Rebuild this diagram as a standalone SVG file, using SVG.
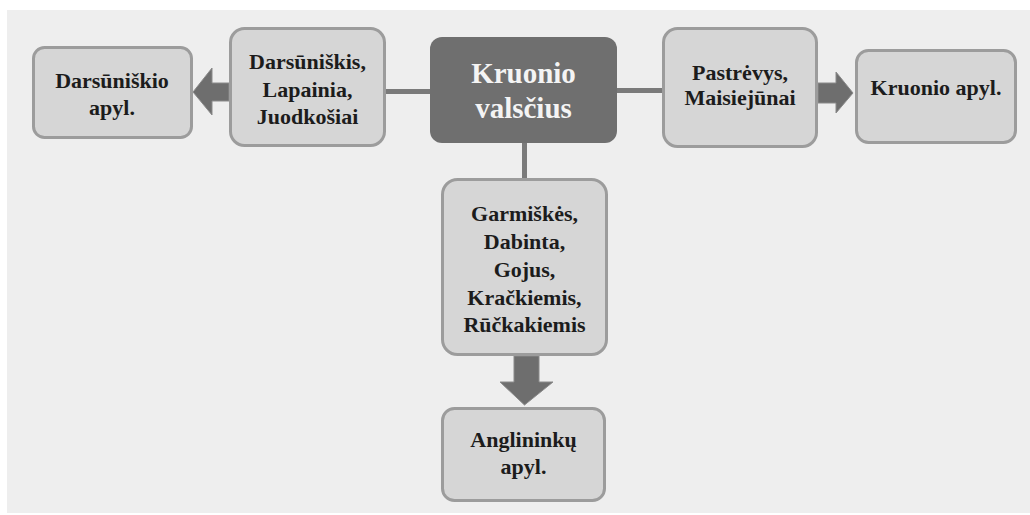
<svg xmlns="http://www.w3.org/2000/svg" width="1030" height="515" viewBox="0 0 1030 515">
  <style>
    .box { fill: #d6d6d6; stroke: #9c9c9c; stroke-width: 3; }
    .hub { fill: #6f6f6f; }
    .lbl { font-family: "Liberation Serif", "Times New Roman", serif; font-weight: bold; font-size: 22px; fill: #1c1c1c; text-anchor: middle; }
    .hubl { font-family: "Liberation Serif", "Times New Roman", serif; font-weight: bold; font-size: 29px; fill: #f4f4f4; text-anchor: middle; }
    .link { stroke: #7a7a7a; stroke-width: 5; fill: none; }
    .arrow { fill: #6e6e6e; stroke: #8a8a8a; stroke-width: 1; }
  </style>

  <!-- background panel -->
  <rect x="7" y="10" width="1023" height="503" fill="#eeeeee"/>

  <!-- connectors -->
  <g id="connectors">
    <line class="link" x1="384" y1="91.5" x2="432" y2="91.5"/>
    <line class="link" x1="615" y1="90.5" x2="664" y2="90.5"/>
    <line class="link" x1="524.5" y1="141" x2="524.5" y2="180"/>
    <polygon class="arrow" points="229,83 212,83 212,68 193,92 212,115 212,101 229,101"/>
    <polygon class="arrow" points="818,83 836,83 836,72 853,93 836,113 836,103 818,103"/>
    <polygon class="arrow" points="514,356 539,356 539,382 553,382 524.5,405 500,382 514,382"/>
  </g>

  <g id="darsuniskio-apyl">
    <rect class="box" x="33.5" y="47.5" width="158" height="90" rx="11"/>
    <text class="lbl" x="112" y="88">Darsūniškio</text>
    <text class="lbl" x="112" y="115">apyl.</text>
  </g>

  <g id="darsuniskis">
    <rect class="box" x="230.5" y="28.5" width="154" height="117" rx="14"/>
    <text class="lbl" x="307.5" y="69">Darsūniškis,</text>
    <text class="lbl" x="307.5" y="97">Lapainia,</text>
    <text class="lbl" x="307.5" y="124">Juodkošiai</text>
  </g>

  <g id="kruonio-valscius">
    <rect class="hub" x="430" y="37" width="187" height="106" rx="12"/>
    <text class="hubl" x="523.5" y="83">Kruonio</text>
    <text class="hubl" x="523.5" y="118">valsčius</text>
  </g>

  <g id="pastrevys">
    <rect class="box" x="663.5" y="28.5" width="153" height="118" rx="14"/>
    <text class="lbl" x="740" y="80">Pastrėvys,</text>
    <text class="lbl" x="740" y="105">Maisiejūnai</text>
  </g>

  <g id="kruonio-apyl">
    <rect class="box" x="856.5" y="50.5" width="159" height="92" rx="12"/>
    <text class="lbl" x="936" y="95">Kruonio apyl.</text>
  </g>

  <g id="garmiskes">
    <rect class="box" x="442.5" y="179.5" width="164" height="175" rx="15"/>
    <text class="lbl" x="524.5" y="221">Garmiškės,</text>
    <text class="lbl" x="524.5" y="249">Dabinta,</text>
    <text class="lbl" x="524.5" y="277">Gojus,</text>
    <text class="lbl" x="524.5" y="305">Kračkiemis,</text>
    <text class="lbl" x="524.5" y="332">Rūčkakiemis</text>
  </g>

  <g id="anglininku-apyl">
    <rect class="box" x="442.5" y="408.5" width="162" height="92" rx="12"/>
    <text class="lbl" x="523.5" y="447">Anglininkų</text>
    <text class="lbl" x="523.5" y="474">apyl.</text>
  </g>
</svg>
